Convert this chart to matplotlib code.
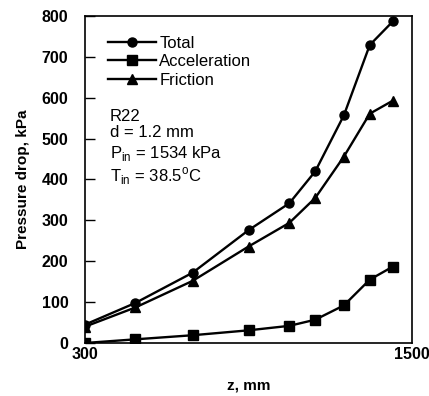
import matplotlib
matplotlib.use("Agg")
import matplotlib.pyplot as plt

plt.rcParams['font.family'] = ['Liberation Sans', 'DejaVu Sans']
plt.rcParams['mathtext.fontset'] = 'custom'
plt.rcParams['mathtext.rm'] = 'Liberation Sans'

# z position along the tube, mm
z_mm = [300, 485, 695, 900, 1050, 1145, 1250, 1345, 1430]
# pressure drop components, kPa
dp_total = [45, 98, 172, 276, 342, 420, 557, 729, 787]
dp_accel = [0, 9, 19, 31, 42, 57, 92, 155, 187]
dp_fric = [40, 87, 152, 236, 294, 355, 456, 561, 593]

x_ticks = [300, 1500]
y_ticks = [0, 100, 200, 300, 400, 500, 600, 700, 800]

fig = plt.figure(figsize=(4.29, 3.96), dpi=100)
ax = fig.add_axes([85 / 429, 1 - 343 / 396, 327 / 429, 327 / 396])

ax.plot(z_mm, dp_total, '-o', color='black', lw=1.7, ms=6.5, label='Total')
ax.plot(z_mm, dp_accel, '-s', color='black', lw=1.7, ms=6.5, label='Acceleration')
ax.plot(z_mm, dp_fric, '-^', color='black', lw=1.7, ms=6.5, label='Friction')

ax.set_xlim(300, 1500)
ax.set_ylim(0, 800)
ax.set_xticks(x_ticks)
ax.set_yticks(y_ticks)
ax.tick_params(axis='y', direction='in', length=7, width=1, pad=12)
ax.tick_params(axis='x', length=0, pad=3)
for lab in ax.get_xticklabels() + ax.get_yticklabels():
    lab.set_fontweight('bold')
    lab.set_fontsize(11.5)
for sp in ax.spines.values():
    sp.set_linewidth(1.2)

ax.set_xlabel('z, mm', fontsize=11, fontweight='bold', labelpad=12)
ax.set_ylabel('Pressure drop, kPa', fontsize=11, fontweight='bold', labelpad=8)

ax.legend(loc='upper left', bbox_to_anchor=(0.07, 0.94), frameon=False,
          fontsize=12, handlelength=2.9, handletextpad=0.18, labelspacing=0.22,
          borderpad=0, borderaxespad=0)

ax.text(0.075, 0.679, 'R22', transform=ax.transAxes, fontsize=12, va='baseline')
ax.text(0.075, 0.629, 'd = 1.2 mm', transform=ax.transAxes, fontsize=12, va='baseline')
ax.text(0.075, 0.567, r'P$_{\mathregular{in}}$ = 1534 kPa', transform=ax.transAxes,
        fontsize=12, va='baseline')
ax.text(0.075, 0.493, r'T$_{\mathregular{in}}$ = 38.5$^{\mathregular{o}}$C',
        transform=ax.transAxes, fontsize=12, va='baseline')

fig.savefig('out.png', dpi=100)
